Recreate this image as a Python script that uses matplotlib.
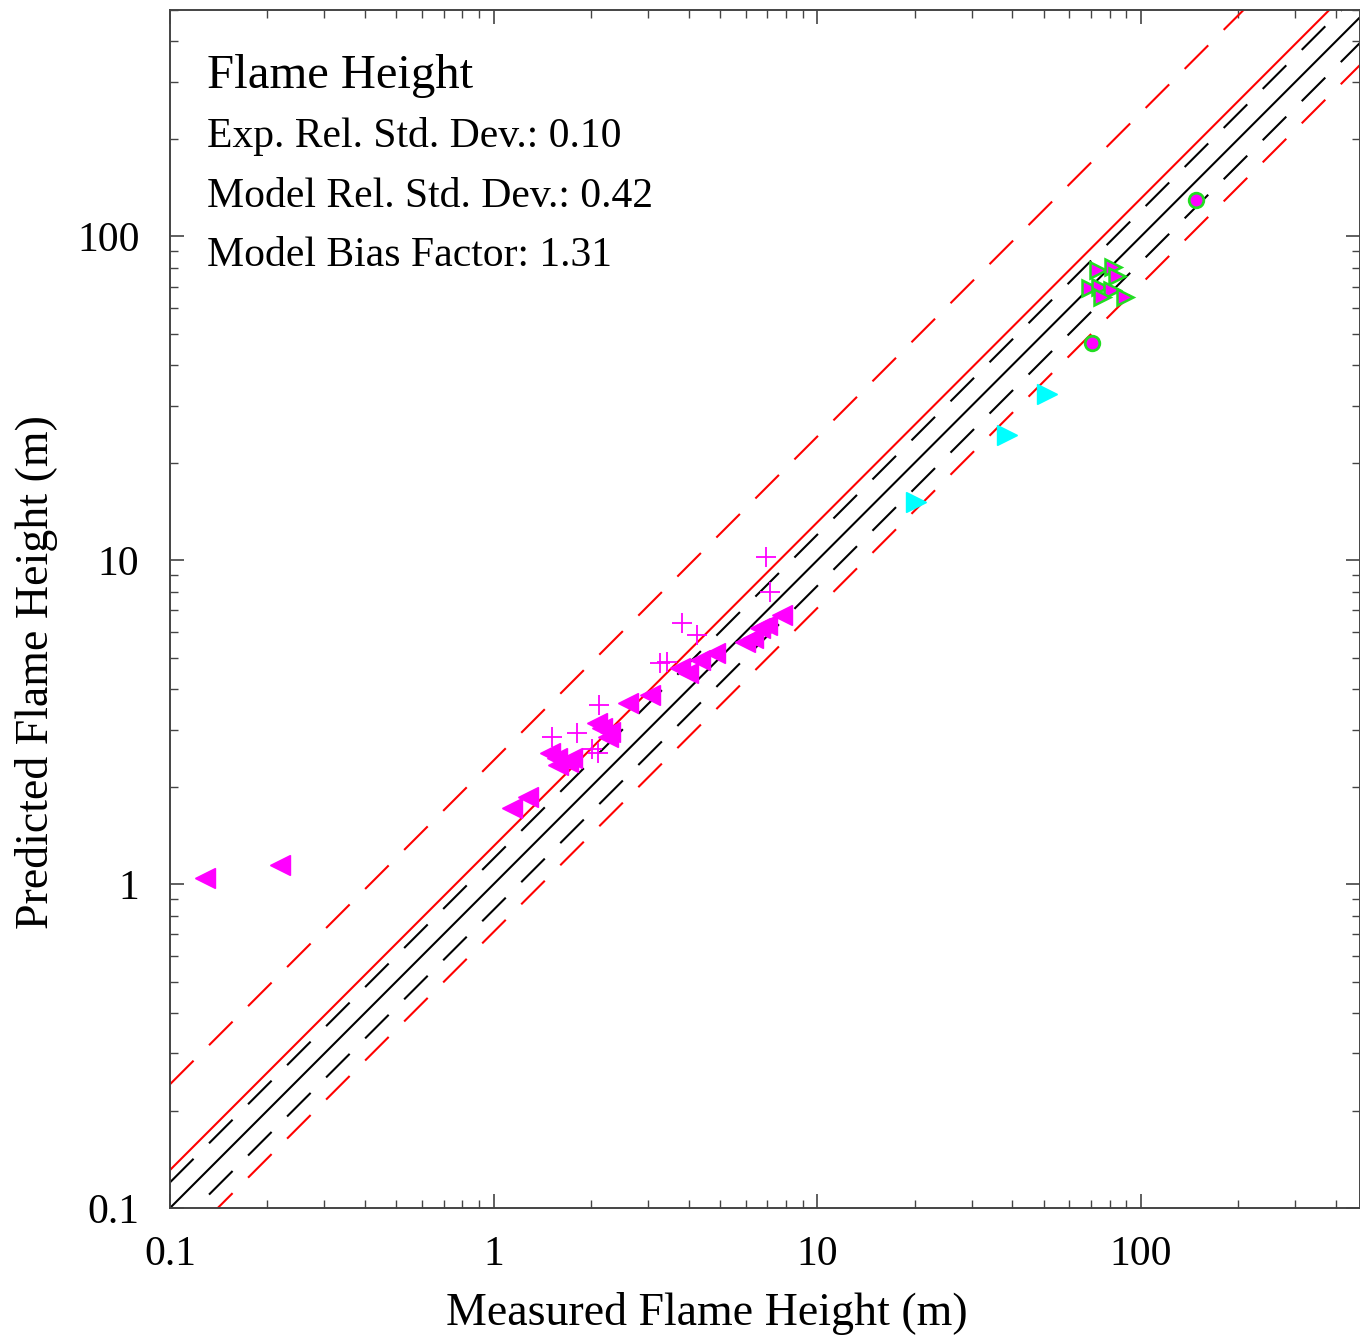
import matplotlib
matplotlib.use('Agg')
import matplotlib.pyplot as plt
import numpy as np

# statistics shown in the plot
sigma_e = 0.10
sigma_m = 0.42
bias = 1.31

# magenta left triangles
tri_x = [0.128, 0.219, 1.139, 1.276, 1.493, 1.569, 1.580, 1.746, 1.696, 2.085, 2.160,
         2.288, 2.255, 2.60, 3.040, 3.764, 3.984, 4.339, 4.828, 5.974, 6.324, 6.647,
         6.987, 7.776]
tri_y = [1.046, 1.147, 1.721, 1.861, 2.545, 2.456, 2.337, 2.456, 2.387, 3.150, 3.040,
         2.955, 2.852, 3.62, 3.844, 4.658, 4.497, 4.931, 5.183, 5.605, 5.767, 6.192,
         6.324, 6.788]

# magenta plus markers
plus_x = [2.114, 1.514, 1.808, 2.012, 2.099, 3.817, 4.246, 3.264, 3.430, 6.937, 7.138]
plus_y = [3.581, 2.852, 2.934, 2.618, 2.545, 6.417, 5.892, 4.828, 4.863, 10.26, 8.0]

# magenta right triangles with green edge
gtri_x = [73.6, 81.9, 84.2, 69.5, 74.6, 81.3, 75.7, 89.2]
gtri_y = [79.0, 80.2, 75.2, 69.5, 70.0, 68.5, 65.2, 65.2]

# magenta circles with green edge
circ_x = [147.8, 70.5]
circ_y = [129.1, 46.7]

# cyan right triangles
cyan_x = [20.2, 38.5, 51.2]
cyan_y = [15.1, 24.4, 32.5]

XLIM = (0.1, 475)
YLIM = (0.1, 500)

plt.rcParams['font.family'] = ['Liberation Serif', 'DejaVu Serif']

fig = plt.figure(figsize=(13.6, 13.36), dpi=100)
ax = fig.add_axes([170 / 1360, 128 / 1336, 1190 / 1360, 1198 / 1336])
ax.set_xscale('log')
ax.set_yscale('log')

xl = np.array([XLIM[0], YLIM[1]])
lw = 1.5
dash = (16, 10.5)
ax.plot(xl, xl, color='black', lw=lw)
ax.plot(xl, xl * (1 + 2 * sigma_e), color='black', lw=lw, dashes=dash)
ax.plot(xl, xl / (1 + 2 * sigma_e), color='black', lw=lw, dashes=dash)
ax.plot(xl, xl * bias, color='red', lw=lw)
ax.plot(xl, xl * bias * (1 + 2 * sigma_m), color='red', lw=lw, dashes=dash)
ax.plot(xl, xl * bias / (1 + 2 * sigma_m), color='red', lw=lw, dashes=dash)

ax.plot(tri_x, tri_y, '<', color='magenta', ms=14, mec='magenta', ls='none')
ax.plot(plus_x, plus_y, '+', color='magenta', ms=14, mew=1.3, ls='none')
ax.plot(cyan_x, cyan_y, '>', color='cyan', ms=14, mec='cyan', ls='none')
ax.plot(gtri_x, gtri_y, '>', color='magenta', ms=11, mec='#22dd22', mew=1.8, ls='none')
ax.plot(circ_x, circ_y, 'o', color='magenta', ms=10.5, mec='#22dd22', mew=2, ls='none')

ax.set_xlim(*XLIM)
ax.set_ylim(*YLIM)

ax.set_xticks([0.1, 1, 10, 100])
ax.set_xticklabels(['0.1', '1', '10', '100'])
ax.set_yticks([0.1, 1, 10, 100])
ax.set_yticklabels(['0.1', '1', '10', '100'])

ax.tick_params(which='both', direction='in', top=True, right=True, colors='#444444',
               labelcolor='black')
ax.tick_params(which='major', length=10, width=1.2, labelsize=30)
ax.tick_params(axis='x', which='major', pad=20)
ax.tick_params(axis='y', which='major', pad=22)
ax.tick_params(which='minor', length=6, width=1.0)
for s in ax.spines.values():
    s.set_color('#444444')
    s.set_linewidth(1.4)

ax.set_xlabel('Measured Flame Height (m)', fontsize=33)
ax.set_ylabel('Predicted Flame Height (m)', fontsize=33)
ax.xaxis.set_label_coords(0.451, -0.07)
ax.yaxis.set_label_coords(-0.094, 0.447)

ax.text(0.031, 0.935, 'Flame Height', transform=ax.transAxes, fontsize=35, va='baseline')
ax.text(0.031, 0.8856, f'Exp. Rel. Std. Dev.: {sigma_e:.2f}', transform=ax.transAxes,
        fontsize=30, va='baseline')
ax.text(0.031, 0.8356, f'Model Rel. Std. Dev.: {sigma_m:.2f}', transform=ax.transAxes,
        fontsize=30, va='baseline')
ax.text(0.031, 0.786, f'Model Bias Factor: {bias:.2f}', transform=ax.transAxes,
        fontsize=30, va='baseline')

fig.savefig('out.png', dpi=100)
